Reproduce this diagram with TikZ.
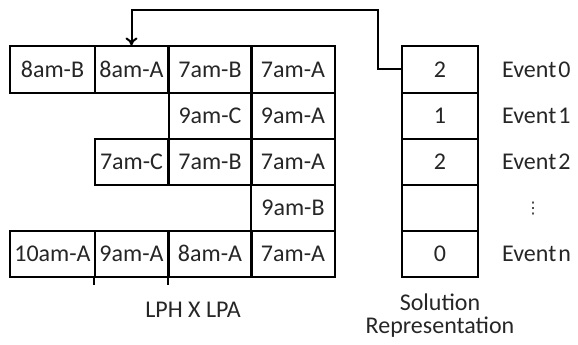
\documentclass[tikz,border=0pt]{standalone}
\usepackage{fontspec}
\setmainfont{Carlito}
\newfontfamily\djv{DejaVu Sans}
\usetikzlibrary{arrows.meta}
\begin{document}
\begin{tikzpicture}[x=1pt,y=-1pt,
  every node/.style={font=\fontsize{24}{28}\selectfont, text=black!85},
  cell/.style={draw, line width=2pt, minimum height=46pt, inner sep=0pt, anchor=center},
  lbl/.style={anchor=west, inner sep=0pt},
  conn/.style={line width=2pt, -{To[length=8pt,width=12pt]}}]
\useasboundingbox (0,0) rectangle (578,345);
% row 1
\node[cell, minimum width=85pt] (r1c1) at (52.5,69.5) {8am-B};
\node[cell, minimum width=73pt] (r1c2) at (131.5,69.5) {8am-A};
\node[cell, minimum width=83pt] (r1c3) at (210,69.5) {7am-B};
\node[cell, minimum width=84pt] (r1c4) at (293,69.5) {7am-A};
% row 2
\node[cell, minimum width=83pt] (r2c3) at (210,115.5) {9am-C};
\node[cell, minimum width=84pt] (r2c4) at (293,115.5) {9am-A};
% row 3
\node[cell, minimum width=73pt] (r3c2) at (131.5,161.5) {7am-C};
\node[cell, minimum width=83pt] (r3c3) at (210,161.5) {7am-B};
\node[cell, minimum width=84pt] (r3c4) at (293,161.5) {7am-A};
% row 4
\node[cell, minimum width=84pt] (r4c4) at (293,207.5) {9am-B};
% row 5
\node[cell, minimum width=85pt] (r5c1) at (52.5,253.5) {10am-A};
\node[cell, minimum width=73pt] (r5c2) at (131.5,253.5) {9am-A};
\node[cell, minimum width=83pt] (r5c3) at (210,253.5) {8am-A};
\node[cell, minimum width=84pt] (r5c4) at (293,253.5) {7am-A};
\draw[line width=2pt] (r5c2.south west) -- ++(0,-7pt);
\draw[line width=2pt] (r5c3.south west) -- ++(0,-7pt);
\node (gridcap) at (193,310) {LPH X LPA};
% solution
\node[cell, minimum width=76pt] (s0) at (440,69.5) {2};
\node[cell, minimum width=76pt] (s1) at (440,115.5) {1};
\node[cell, minimum width=76pt] (s2) at (440,161.5) {2};
\node[cell, minimum width=76pt] (s3) at (440,207.5) {};
\node[cell, minimum width=76pt] (s4) at (440,253.5) {0};
\node[lbl] (e0) at (502,69.5) {Event\kern2pt0};
\node[lbl] (e1) at (502,115.5) {Event\kern2pt1};
\node[lbl] (e2) at (502,161.5) {Event\kern2pt2};
\node[font=\djv\fontsize{16}{18}\selectfont] (edots) at (533,209) {⋮};
\node[lbl] (en) at (502,253.5) {Event\kern2pt n};
\node[align=center, font=\fontsize{24}{23}\selectfont] (solcap) at (440,316) {Solution\\Representation};
% connector
\draw[conn] (s0.west) -- ++(-23pt,0) |- ([yshift=35pt]r1c2.north) -- (r1c2.north);
\end{tikzpicture}
\end{document}
